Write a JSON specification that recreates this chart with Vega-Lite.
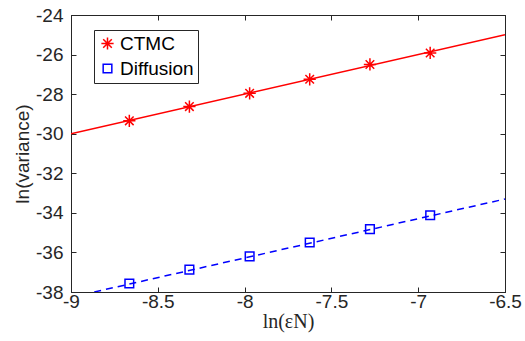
{
  "$schema": "https://vega.github.io/schema/vega-lite/v6.json",
  "width": 434,
  "height": 277,
  "autosize": {"type": "none"},
  "padding": {"left": 71, "top": 15, "right": 20, "bottom": 49},
  "background": "white",
  "config": {
    "font": "Liberation Sans",
    "view": {"stroke": "#262626", "strokeWidth": 1},
    "axis": {
      "grid": false,
      "domainColor": "#262626",
      "tickColor": "#262626",
      "labelColor": "#262626",
      "titleColor": "#262626",
      "labelFont": "Liberation Sans",
      "labelFontSize": 19,
      "tickSize": -5,
      "titleFontWeight": "normal"
    }
  },
  "datasets": {
    "lines": [
      {"series": "CTMC", "x": -9, "y": -30},
      {"series": "CTMC", "x": -6.5, "y": -25},
      {"series": "Diffusion", "x": -8.866, "y": -38},
      {"series": "Diffusion", "x": -6.5, "y": -33.3}
    ],
    "points": [
      {"series": "CTMC", "x": -8.664, "y": -29.35},
      {"series": "CTMC", "x": -8.318, "y": -28.63},
      {"series": "CTMC", "x": -7.971, "y": -27.96},
      {"series": "CTMC", "x": -7.625, "y": -27.25},
      {"series": "CTMC", "x": -7.278, "y": -26.5},
      {"series": "CTMC", "x": -6.931, "y": -25.92},
      {"series": "Diffusion", "x": -8.664, "y": -37.57},
      {"series": "Diffusion", "x": -8.318, "y": -36.87},
      {"series": "Diffusion", "x": -7.971, "y": -36.2},
      {"series": "Diffusion", "x": -7.625, "y": -35.5},
      {"series": "Diffusion", "x": -7.278, "y": -34.82},
      {"series": "Diffusion", "x": -6.931, "y": -34.12}
    ]
  },
  "layer": [
    {
      "data": {"name": "lines"},
      "transform": [{"filter": "datum.series === 'CTMC'"}],
      "mark": {"type": "line", "strokeWidth": 1.5, "clip": true, "color": "#ff0000"},
      "encoding": {
        "x": {"field": "x", "type": "quantitative", "scale": {"domain": [-9, -6.5], "nice": false, "zero": false},
              "axis": {"orient": "top", "labels": false, "title": null, "values": [-9, -8.5, -8, -7.5, -7, -6.5]}},
        "y": {"field": "y", "type": "quantitative", "scale": {"domain": [-38, -24], "nice": false, "zero": false},
              "axis": {"orient": "right", "labels": false, "title": null, "values": [-38, -36, -34, -32, -30, -28, -26, -24]}}
      }
    },
    {
      "data": {"name": "lines"},
      "transform": [{"filter": "datum.series === 'Diffusion'"}],
      "mark": {"type": "line", "strokeWidth": 1.5, "clip": true, "color": "#0000ff", "strokeDash": [7, 5]},
      "encoding": {
        "x": {"field": "x", "type": "quantitative", "axis": null},
        "y": {"field": "y", "type": "quantitative", "axis": null}
      }
    },
    {
      "data": {"name": "points"},
      "mark": {"type": "point", "filled": false, "strokeWidth": 1.5, "opacity": 1},
      "encoding": {
        "x": {"field": "x", "type": "quantitative",
              "axis": {"title": "ln(εN)", "titleFont": "Liberation Serif", "titleFontSize": 20, "titlePadding": 0, "values": [-9, -8.5, -8, -7.5, -7, -6.5], "labelExpr": "'' + datum.value", "labelFlush": false, "labelPadding": 5}},
        "y": {"field": "y", "type": "quantitative",
              "axis": {"title": "ln(variance)", "titleFontSize": 19, "titlePadding": 3, "values": [-38, -36, -34, -32, -30, -28, -26, -24], "labelExpr": "'' + datum.value", "labelPadding": 13}},
        "color": {"field": "series", "type": "nominal", "scale": {"domain": ["CTMC", "Diffusion"], "range": ["#ff0000", "#0000ff"]},
                  "legend": {"title": null, "orient": "none", "legendX": 23, "legendY": 15, "strokeColor": "#262626", "fillColor": "white",
                             "padding": 4, "labelFontSize": 19, "labelColor": "#000000", "rowPadding": 5, "symbolStrokeWidth": 1.5, "labelOffset": 3}},
        "shape": {"field": "series", "type": "nominal", "scale": {"domain": ["CTMC", "Diffusion"], "range": ["M-1,0L1,0M0,-1L0,1M-0.7,-0.7L0.7,0.7M-0.7,0.7L0.7,-0.7", "square"]}},
        "size": {"field": "series", "type": "nominal", "scale": {"domain": ["CTMC", "Diffusion"], "range": [150, 75]}}
      }
    }
  ],
  "resolve": {"axis": {"x": "independent", "y": "independent"}}
}
